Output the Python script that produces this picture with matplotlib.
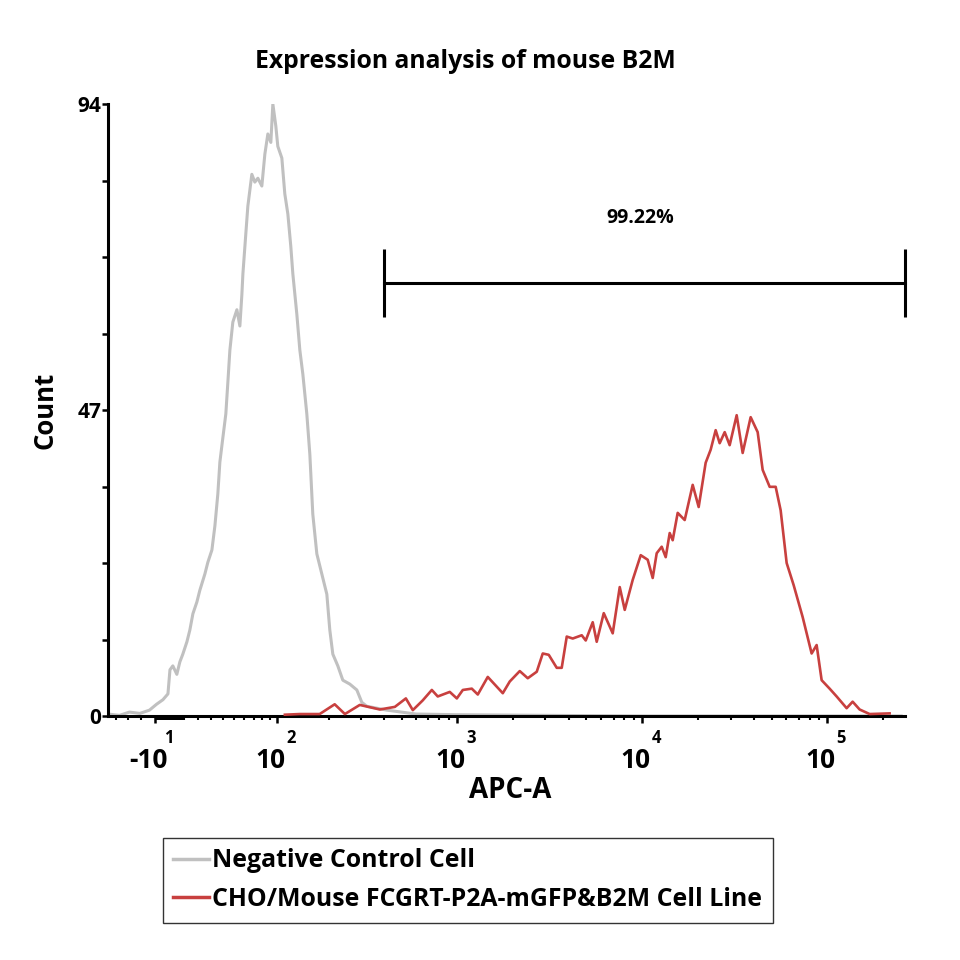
import matplotlib
matplotlib.use('Agg')
import matplotlib.pyplot as plt
import matplotlib.transforms as mtransforms
import numpy as np

plt.rcParams['font.family'] = 'Open Sans'
plt.rcParams['font.weight'] = 'bold'

# Negative control (APC-A value, count)
neg_x = [-47, -37, -29, -21, -14, -9, -4.5, -1, 0.4, 2.4, 5.2, 7.3, 9.4, 12.3,
         14.4, 16.6, 19.5, 21.7, 25.5, 27.8, 31.0, 33.4, 35.8, 37.5, 40.0, 42.6,
         44.4, 46.2, 48.9, 52.7, 55.6, 57.6, 58.6, 61.6, 63.7, 68.0, 71.3, 74.8,
         79.5, 83.2, 87.0, 90.9, 93.6, 97.7, 100.5, 106.4, 110.9, 115.7, 120.5,
         123.9, 130.8, 136.2, 141.8, 149.5, 155.6, 161.8, 170.6, 182.1, 194.3,
         201.9, 209.9, 223.8, 238.6, 260.8, 285.1, 303.7, 323.3, 366.9, 415.9,
         600, 1000, 3000, 10000, 250000]
neg_y = [0.3, 0.1, 0.6, 0.4, 0.9, 1.8, 2.5, 3.4, 7.1, 7.7, 6.4, 8.3, 9.5, 11.4,
         13.2, 15.7, 17.5, 19.3, 21.8, 23.6, 25.5, 29.2, 34.1, 39.0, 42.7, 46.4,
         51.3, 56.2, 60.5, 62.4, 59.9, 64.8, 67.9, 74.1, 78.3, 83.2, 82.0, 82.6,
         81.4, 86.3, 89.4, 88.1, 94.0, 90.6, 87.5, 85.7, 80.2, 77.1, 72.1,
         67.9, 61.7, 56.2, 52.5, 46.4, 40.2, 31.0, 24.9, 21.8, 18.7,
         13.2, 9.5, 7.7, 5.5, 4.9, 4.0, 2.1, 1.5, 1.2, 0.9,
         0.3, 0.2, 0.1, 0.0, 0.0]

# CHO/Mouse FCGRT-P2A-mGFP&B2M cell line
pos_x = [111, 136, 177, 215, 245, 296, 381, 460, 528, 576, 652, 730, 786, 913,
         997, 1074, 1201, 1294, 1465, 1639, 1766, 1926, 2181, 2409, 2694, 2903,
         3127, 3454, 3675, 3912, 4214, 4713, 4953, 5403, 5678, 6197, 6927, 7559,
         8044, 8881, 9812, 10702, 11388, 11969, 12736, 13386, 14068, 14601,
         15537, 16950, 18722, 20168, 22000, 23411, 24912, 26183, 27866, 29646,
         32343, 34846, 38486, 41989, 44682, 48748, 52522, 55868, 60203, 65680,
         73450, 82132, 87396, 93002, 102729, 112084, 126896, 136724, 149128,
         168868, 216524]
pos_y = [0.2, 0.3, 0.3, 1.8, 0.3, 1.7, 1.0, 1.4, 2.7, 0.9, 2.4, 4.0, 3.0, 3.7,
         2.7, 4.0, 4.2, 3.3, 6.0, 4.5, 3.5, 5.3, 6.9, 5.8, 6.8, 9.6,
         9.4, 7.4, 7.4, 12.2, 11.9, 12.4, 11.6, 14.4, 11.4, 15.8, 12.7, 19.8,
         16.3, 20.9, 24.7, 24.0, 21.2, 25.0, 26.0, 24.4, 28.1, 27.0,
         31.2, 30.1, 35.5, 32.1, 38.9, 40.9, 43.9, 41.9, 43.6, 41.6,
         46.2, 40.4, 45.9, 43.6, 37.8, 35.2, 35.2, 31.6, 23.5, 20.1,
         15.2, 9.6, 10.9, 5.5, 4.2, 3.0, 1.2, 2.2, 1.0,
         0.3, 0.4]

labels = ['Negative Control Cell', 'CHO/Mouse FCGRT-P2A-mGFP&B2M Cell Line']
colors = ['#c0c0c0', '#c8403f']

# x axis decades
major_ticks = [-10, 100, 1000, 10000, 100000]
major_base = ['-10', '10', '10', '10', '10']
major_exp = ['1', '2', '3', '4', '5']
minor_ticks = ([-40, -30, -20] + list(range(-9, 10)) + [10]
               + [m * 10 for m in range(2, 10)] + [m * 100 for m in range(2, 10)]
               + [m * 1000 for m in range(2, 10)] + [m * 10000 for m in range(2, 10)]
               + [200000])
x_max = 262143

gate_x = [400, 262143]
gate_y = 66.5
gate_h = [61.3, 71.7]
gate_label = '99.22%'

W = 56.0


def fwd(x):
    return np.arcsinh(np.asarray(x) / W) / np.log(10)


def inv(y):
    return W * np.sinh(np.asarray(y) * np.log(10))


fig = plt.figure(figsize=(9.6, 9.6), dpi=100)
ax = fig.add_axes([108 / 960, 1 - 716 / 960, 797 / 960, 612 / 960])
ax.set_xscale('function', functions=(fwd, inv))

ax.plot(neg_x, neg_y, color=colors[0], lw=2.2, label=labels[0], zorder=2)
ax.plot(pos_x, pos_y, color=colors[1], lw=1.9, label=labels[1], zorder=3)

ax.set_xlim(-47, x_max)
ax.set_ylim(0, 94)

for s in ['top', 'right']:
    ax.spines[s].set_visible(False)
for s in ['left', 'bottom']:
    ax.spines[s].set_linewidth(2.2)

ax.set_yticks([0, 47, 94])
ax.set_yticks([11.75, 23.5, 35.25, 58.75, 70.5, 82.25], minor=True)
ax.set_yticklabels(['0', '47', '94'], fontsize=15, fontweight='bold')
ax.tick_params(axis='y', which='both', direction='out', length=4, width=1.8, pad=1)

ax.set_xticks(major_ticks)
ax.set_xticks(minor_ticks, minor=True)
ax.set_xticklabels([''] * len(major_ticks))
ax.tick_params(axis='x', which='major', direction='out', length=5, width=1.8)
ax.tick_params(axis='x', which='minor', direction='out', length=3, width=1.5)

trans = mtransforms.blended_transform_factory(ax.transData, ax.transAxes)
for t, b, e in zip(major_ticks, major_base, major_exp):
    ax.annotate(b, xy=(t, 0), xycoords=trans, xytext=(-5, -32), textcoords='offset points',
                ha='center', va='center', fontsize=19, fontweight='bold')
    ax.annotate(e, xy=(t, 0), xycoords=trans, xytext=(10, -16), textcoords='offset points',
                ha='center', va='center', fontsize=12, fontweight='bold')

# gate
ax.plot(gate_x, [gate_y, gate_y], color='black', lw=2.2, clip_on=False)
ax.vlines(gate_x, gate_h[0], gate_h[1], color='black', lw=2.2, clip_on=False)
ax.text(np.sqrt(gate_x[0] * gate_x[1]) * 0.95, 76.5, gate_label, ha='center', va='center',
        fontsize=14, fontweight='bold')

fig.text(465 / 960, 1 - 61 / 960, 'Expression analysis of mouse B2M', ha='center', va='center',
         fontsize=17.8, fontweight='bold')
fig.text(45 / 960, 1 - 410 / 960, 'Count', rotation=90, ha='center', va='center',
         fontsize=18.5, fontweight='bold')
fig.text(510 / 960, 1 - 791 / 960, 'APC-A', ha='center', va='center',
         fontsize=20, fontweight='bold')

leg = fig.legend(loc='upper left', bbox_to_anchor=(163 / 960, 1 - 838 / 960),
                 fontsize=17.9, frameon=True, fancybox=False, handlelength=1.45,
                 handletextpad=0.12, borderpad=0.42, labelspacing=0.55, borderaxespad=0)
leg.get_frame().set_edgecolor('black')
leg.get_frame().set_linewidth(1.0)
for line in leg.get_lines():
    line.set_linewidth(2.5)

fig.savefig('out.png', dpi=100)
